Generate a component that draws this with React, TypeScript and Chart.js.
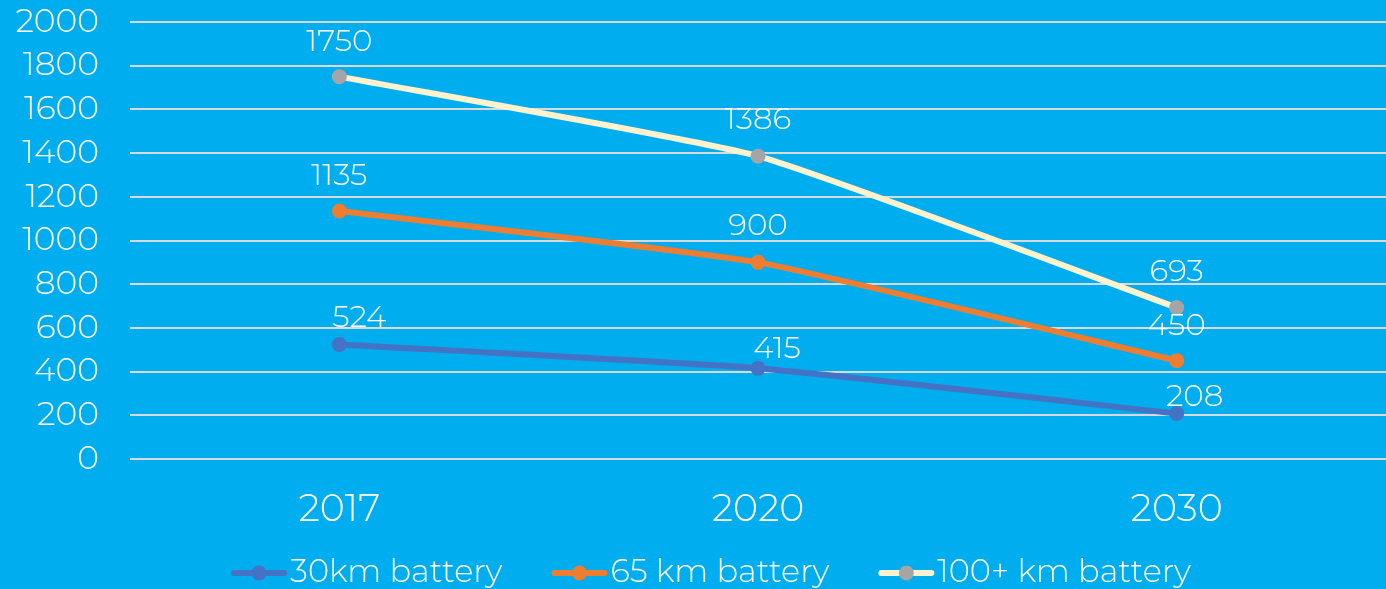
import React, { useEffect, useRef } from "react";
import { Chart, registerables } from "chart.js";

Chart.register(...registerables);

const categories = ["2017", "2020", "2030"];
const yTicks = [0, 200, 400, 600, 800, 1000, 1200, 1400, 1600, 1800, 2000];
const series30km = [524, 415, 208];
const series65km = [1135, 900, 450];
const series100km = [1750, 1386, 693];
const seriesNames = ["30km battery", "65 km battery", "100+ km battery"];

const FONT = "Montserrat, Inter, 'Open Sans', sans-serif";
const BG = "#00ADEE";
const COLORS = [
  { line: "#4472C4", point: "#4472C4" },
  { line: "#ED7D31", point: "#ED7D31" },
  { line: "#FFF2CC", point: "#A5A5A5" },
];

const labelOffsets: { dx: number; dy: number }[][] = [
  [{ dx: 20, dy: -27 }, { dx: 19, dy: -19 }, { dx: 18, dy: -17 }],
  [{ dx: 0, dy: -35 }, { dx: 0, dy: -36 }, { dx: 0, dy: -35 }],
  [{ dx: 0, dy: -35 }, { dx: 0, dy: -36 }, { dx: 0, dy: -36 }],
];

const dataLabelPlugin = {
  id: "dataLabels",
  afterDatasetsDraw(chart: any) {
    const ctx = chart.ctx;
    ctx.save();
    ctx.fillStyle = "#FFFFFF";
    ctx.font = `300 31px ${FONT}`;
    ctx.textAlign = "center";
    ctx.textBaseline = "middle";
    chart.data.datasets.forEach((ds: any, di: number) => {
      const meta = chart.getDatasetMeta(di);
      meta.data.forEach((pt: any, i: number) => {
        const off = labelOffsets[di][i];
        ctx.fillText(String(ds.data[i]), pt.x + off.dx, pt.y + off.dy);
      });
    });
    ctx.restore();
  },
};

const legendPlugin = {
  id: "customLegend",
  afterDraw(chart: any) {
    const ctx = chart.ctx;
    ctx.save();
    ctx.font = `300 32px ${FONT}`;
    ctx.textBaseline = "middle";
    ctx.textAlign = "left";
    const markerW = 56;
    const markerGap = 3;
    const itemGap = 49;
    const widths = seriesNames.map((n) => ctx.measureText(n).width);
    const total =
      widths.reduce((a, b) => a + b, 0) +
      seriesNames.length * (markerW + markerGap) +
      itemGap * (seriesNames.length - 1);
    let x = 711 - total / 2;
    const y = 573;
    seriesNames.forEach((name, i) => {
      ctx.strokeStyle = COLORS[i].line;
      ctx.lineWidth = 6;
      ctx.lineCap = "round";
      ctx.beginPath();
      ctx.moveTo(x + 3, y);
      ctx.lineTo(x + markerW - 3, y);
      ctx.stroke();
      ctx.fillStyle = COLORS[i].point;
      ctx.beginPath();
      ctx.arc(x + markerW / 2, y, 7.5, 0, Math.PI * 2);
      ctx.fill();
      x += markerW + markerGap;
      ctx.fillStyle = "#FFFFFF";
      ctx.fillText(name, x, y);
      x += widths[i] + itemGap;
    });
    ctx.restore();
  },
};

export default function App() {
  const ref = useRef<HTMLCanvasElement>(null);
  useEffect(() => {
    document.body.style.margin = "0";
    document.body.style.background = BG;
    const values = [series30km, series65km, series100km];
    const chart = new Chart(ref.current!, {
      type: "line",
      data: {
        labels: categories,
        datasets: values.map((v, i) => ({
          label: seriesNames[i],
          data: v,
          borderColor: COLORS[i].line,
          backgroundColor: COLORS[i].point,
          pointBackgroundColor: COLORS[i].point,
          pointBorderColor: COLORS[i].point,
          borderWidth: 6,
          pointRadius: 7.5,
          pointBorderWidth: 0,
          tension: 0.15,
          order: 3 - i,
        })),
      },
      options: {
        responsive: false,
        animation: false,
        layout: { autoPadding: false, padding: { top: 22, right: 0, left: 0, bottom: 50 } },
        plugins: {
          tooltip: { enabled: false },
          legend: { display: false },
        },
        scales: {
          x: {
            offset: true,
            grid: { display: false, drawTicks: false },
            border: { display: false },
            ticks: {
              color: "#FFFFFF",
              font: { family: FONT, size: 38, weight: "300" as any },
              padding: 28,
            },
            afterFit(scale: any) {
              scale.height = 80;
              scale.paddingLeft = 0;
              scale.paddingRight = 0;
            },
          },
          y: {
            min: 0,
            max: 2000,
            afterBuildTicks(scale: any) {
              scale.ticks = yTicks.map((v) => ({ value: v }));
            },
            grid: { color: "#D9D9D9", lineWidth: 2, drawTicks: false },
            border: { display: false },
            ticks: {
              autoSkip: false,
              color: "#FFFFFF",
              font: { family: FONT, size: 33, weight: "300" as any },
              padding: 31,
              callback: (v: any) => String(v),
            },
            afterFit(scale: any) {
              scale.width = 130;
              scale.paddingTop = 0;
              scale.paddingBottom = 0;
            },
          },
        },
      },
      plugins: [dataLabelPlugin, legendPlugin],
    });
    return () => chart.destroy();
  }, []);
  return (
    <div style={{ width: 1386, height: 589, background: BG }}>
      <canvas ref={ref} width={1386} height={589} style={{ display: "block" }} />
    </div>
  );
}
